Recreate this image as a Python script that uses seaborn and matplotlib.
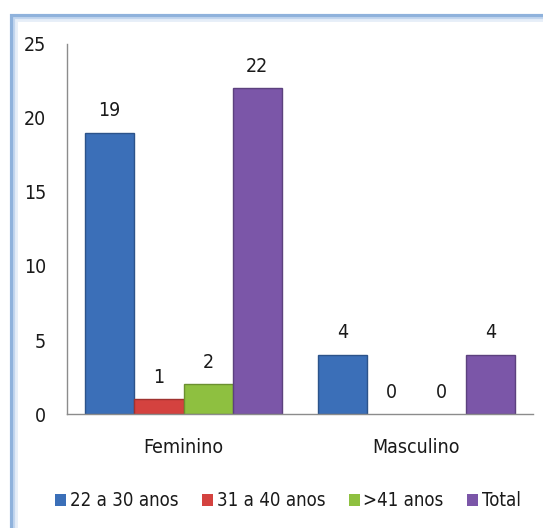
import matplotlib
matplotlib.use("Agg")
import matplotlib.pyplot as plt
from matplotlib.patches import Rectangle
import pandas as pd
import seaborn as sns

categorias = ["Feminino", "Masculino"]
faixas = ["22 a 30 anos", "31 a 40 anos", ">41 anos", "Total"]
feminino = [19, 1, 2, 22]
masculino = [4, 0, 0, 4]
cores = ["#3B6FB8", "#D4423F", "#8EC040", "#7B56A8"]
yticks = [0, 5, 10, 15, 20, 25]

rows = []
for cat, vals in zip(categorias, [feminino, masculino]):
    for f, v in zip(faixas, vals):
        rows.append({"Sexo": cat, "Faixa": f, "Valor": v})
df = pd.DataFrame(rows)

sns.set_theme(style="white")
plt.rcParams['font.family'] = ['DejaVu Sans']
plt.rcParams['font.stretch'] = 'condensed'

FS = 14

W, H = 543, 528
fig = plt.figure(figsize=(W / 100, H / 100), dpi=100)
fig.patch.set_facecolor("white")

# blue chart frame
for i, (c, lw) in enumerate([("#8fb2dc", 3.0), ("#c3d6ee", 2.0), ("#e6eef8", 2.0)]):
    off = i * 2
    fig.patches.append(Rectangle(((12 + off) / W, -0.2), 1.5, 1 - (16 + off) / H + 0.2,
                                 transform=fig.transFigure, fill=False,
                                 edgecolor=c, linewidth=lw))

ax = fig.add_axes([67 / W, 1 - 414 / H, 466 / W, 370 / H])
sns.barplot(data=df, x="Sexo", y="Valor", hue="Faixa", palette=cores,
            width=0.845, gap=0, ax=ax, saturation=1, legend=True)

for p in ax.patches:
    fc = p.get_facecolor()
    dark = tuple(max(0, c * 0.75) for c in fc[:3])
    if p.get_height() > 0:
        p.set_edgecolor(dark)
        p.set_linewidth(1.0)
    else:
        p.set_linewidth(0)

for cont in ax.containers:
    ax.bar_label(cont, padding=9, fontsize=FS, color="#1a1a1a")

ax.set_ylim(0, 25)
ax.set_yticks(yticks)
ax.set_xlim(-0.5, 1.5)
ax.set_xlabel("")
ax.set_ylabel("")
ax.tick_params(axis="y", length=0, pad=15, labelsize=FS, labelcolor="#1a1a1a")
ax.tick_params(axis="x", length=0, pad=17, labelsize=FS, labelcolor="#1a1a1a")
for s in ["top", "right"]:
    ax.spines[s].set_visible(False)
for s in ["left", "bottom"]:
    ax.spines[s].set_color("#8c8c8c")
    ax.spines[s].set_linewidth(1.0)
ax.set_facecolor("white")

handles, labels = ax.get_legend_handles_labels()
ax.get_legend().remove()
fig.legend(handles, labels, loc="center", bbox_to_anchor=(288 / W, 1 - 501 / H),
           ncol=4, frameon=False, fontsize=13.4, handlelength=0.6, handleheight=0.6,
           handletextpad=0.2, columnspacing=1.25, labelcolor="#1a1a1a")

fig.savefig("out.png", dpi=100, facecolor="white")
